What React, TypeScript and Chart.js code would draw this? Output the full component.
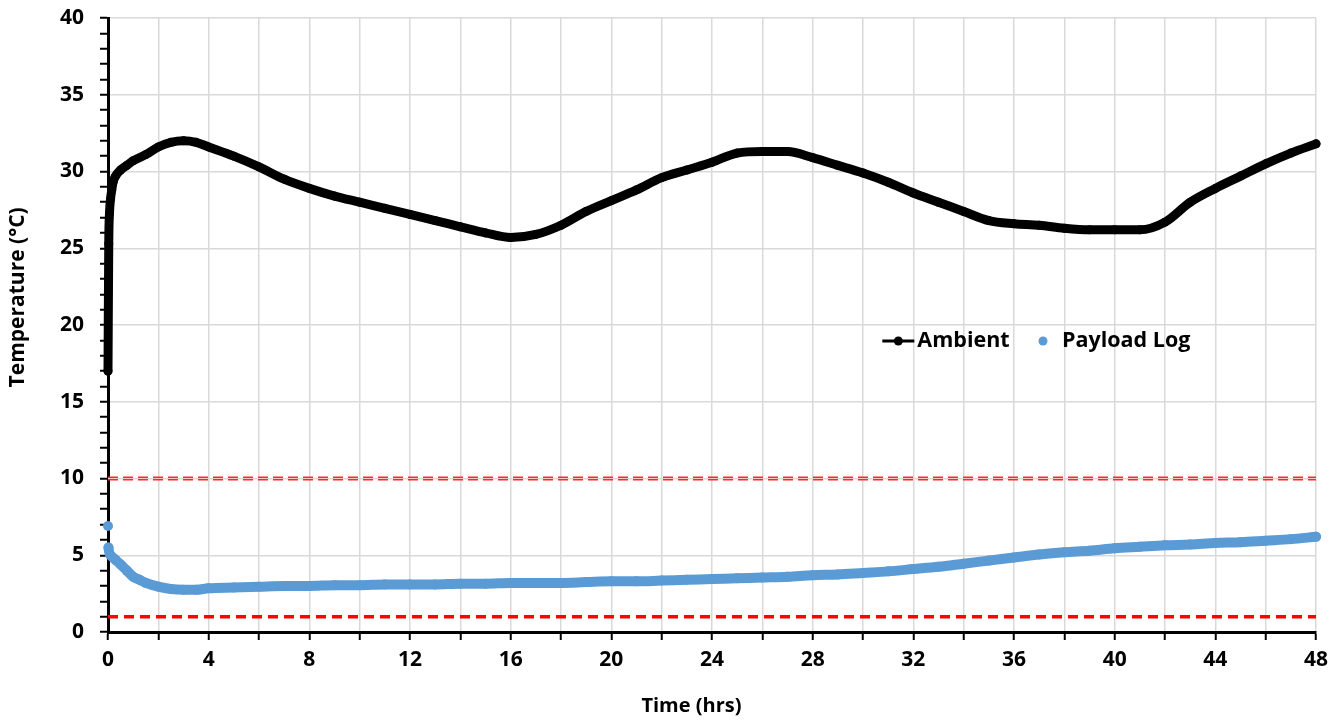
import { useEffect, useRef } from "react";
import { Chart, registerables } from "chart.js";

Chart.register(...registerables);

// ---- data ----
const ambientHours = [0, 0.03, 0.06, 0.1, 0.15, 0.2, 0.3, 0.5, 0.75, 1, 1.5, 2, 2.5, 3, 3.5, 4, 5, 6, 7, 8, 9, 10, 11, 12, 13, 14, 15, 16, 17, 18, 19, 20, 21, 22, 23, 24, 25, 26, 27, 28, 29, 30, 31, 32, 33, 34, 35, 36, 37, 38, 39, 40, 41, 42, 43, 44, 45, 46, 47, 48];
const ambientTemps = [17.0, 25.3, 27.3, 28.2, 28.8, 29.3, 29.7, 30.1, 30.4, 30.7, 31.1, 31.6, 31.9, 32.0, 31.9, 31.6, 31.0, 30.3, 29.5, 28.9, 28.4, 28.0, 27.6, 27.2, 26.8, 26.4, 26.0, 25.7, 25.9, 26.5, 27.4, 28.1, 28.8, 29.6, 30.1, 30.6, 31.2, 31.3, 31.3, 30.9, 30.4, 29.9, 29.3, 28.6, 28.0, 27.4, 26.8, 26.6, 26.5, 26.3, 26.2, 26.2, 26.2, 26.7, 28.0, 28.9, 29.7, 30.5, 31.2, 31.8];

const payloadHours = [0, 0.02, 0.1, 0.3, 0.5, 0.75, 1, 1.25, 1.5, 2, 2.5, 3, 3.5, 4, 5, 6, 7, 8, 9, 10, 11, 12, 13, 14, 15, 16, 17, 18, 19, 20, 21, 22, 23, 24, 25, 26, 27, 28, 29, 30, 31, 32, 33, 34, 35, 36, 37, 38, 39, 40, 41, 42, 43, 44, 45, 46, 47, 48];
const payloadTemps = [6.9, 5.5, 5.0, 4.7, 4.4, 4.0, 3.6, 3.4, 3.2, 2.95, 2.8, 2.75, 2.75, 2.85, 2.9, 2.95, 3.0, 3.0, 3.05, 3.05, 3.1, 3.1, 3.1, 3.15, 3.15, 3.2, 3.2, 3.2, 3.25, 3.3, 3.3, 3.35, 3.4, 3.45, 3.5, 3.55, 3.6, 3.7, 3.75, 3.85, 3.95, 4.1, 4.25, 4.45, 4.65, 4.85, 5.05, 5.2, 5.3, 5.45, 5.55, 5.65, 5.7, 5.8, 5.85, 5.95, 6.05, 6.2];

const upperLimit = 10;
const lowerLimit = 1;
const timeMin = 0;
const timeMax = 48;
const tempMin = 0;
const tempMax = 40;
const seriesNames = ["Ambient", "Payload Log"];
const xTitle = "Time (hrs)";
const yTitle = "Temperature (°C)";

const FONT = "'Open Sans', 'Noto Sans', sans-serif";
const BLUE = "#5b9bd5";

const toPoints = (xs: number[], ys: number[]) => xs.map((x, i) => ({ x, y: ys[i] }));

const annotationPlugin = {
  id: "inlineLegendAndTitles",
  afterDraw(chart: any) {
    const { ctx, chartArea } = chart;
    const w = chartArea.right - chartArea.left;
    const h = chartArea.bottom - chartArea.top;
    ctx.save();
    // axis titles
    ctx.fillStyle = "#000";
    ctx.font = `bold 20px ${FONT}`;
    ctx.textAlign = "center";
    ctx.textBaseline = "middle";
    ctx.fillText(xTitle, chartArea.left + w * 0.483, chartArea.bottom + 74);
    ctx.save();
    ctx.translate(18, chartArea.top + h * 0.455);
    ctx.rotate(-Math.PI / 2);
    ctx.font = `bold 21px ${FONT}`;
    ctx.fillText(yTitle, 0, 0);
    ctx.restore();

    // legend
    const cy = chartArea.top + h * 0.526;
    const x0 = chartArea.left + w * 0.641;
    ctx.strokeStyle = "#000";
    ctx.lineWidth = 3;
    ctx.beginPath();
    ctx.moveTo(x0, cy);
    ctx.lineTo(x0 + 32, cy);
    ctx.stroke();
    ctx.fillStyle = "#000";
    ctx.beginPath();
    ctx.arc(x0 + 16, cy, 4.5, 0, Math.PI * 2);
    ctx.fill();
    ctx.font = `bold 21.5px ${FONT}`;
    ctx.textBaseline = "middle";
    ctx.textAlign = "left";
    ctx.fillText(seriesNames[0], x0 + 35, cy);
    const x1 = chartArea.left + w * 0.774;
    ctx.fillStyle = BLUE;
    ctx.beginPath();
    ctx.arc(x1, cy, 4.5, 0, Math.PI * 2);
    ctx.fill();
    ctx.fillStyle = "#000";
    ctx.fillText(seriesNames[1], x1 + 19, cy);
    ctx.restore();
  },
};

export default function App() {
  const canvasRef = useRef<HTMLCanvasElement | null>(null);

  useEffect(() => {
    document.body.style.margin = "0";
    const canvas = canvasRef.current;
    if (!canvas) return;
    const chart = new Chart(canvas, {
      type: "line",
      data: {
        datasets: [
          {
            label: "upper-outer",
            data: [{ x: timeMin, y: upperLimit }, { x: timeMax, y: upperLimit }],
            borderColor: "#ff2a2a",
            borderWidth: 4,
            borderDash: [10, 5],
            pointRadius: 0,
            order: 5,
          },
          {
            label: "upper-inner",
            data: [{ x: timeMin, y: upperLimit }, { x: timeMax, y: upperLimit }],
            borderColor: "#ffc4c4",
            borderWidth: 1.2,
            borderDash: [10, 5],
            pointRadius: 0,
            order: 4,
          },
          {
            label: "lower",
            data: [{ x: timeMin, y: lowerLimit }, { x: timeMax, y: lowerLimit }],
            borderColor: "#ff0000",
            borderWidth: 3.5,
            borderDash: [10, 6],
            pointRadius: 0,
            order: 3,
          },
          {
            label: seriesNames[1],
            data: toPoints(payloadHours, payloadTemps),
            borderColor: BLUE,
            backgroundColor: BLUE,
            borderWidth: 10,
            pointRadius: 5,
            pointBorderWidth: 0,
            pointBackgroundColor: BLUE,
            cubicInterpolationMode: "monotone",
            borderCapStyle: "round",
            borderJoinStyle: "round",
            clip: 10,
            segment: {
              borderColor: (ctx: any) => (ctx.p0DataIndex === 0 ? "rgba(0,0,0,0)" : undefined),
            },
            order: 2,
          },
          {
            label: seriesNames[0],
            data: toPoints(ambientHours, ambientTemps),
            borderColor: "#000",
            backgroundColor: "#000",
            borderWidth: 9,
            pointRadius: 4.5,
            pointBorderWidth: 0,
            pointBackgroundColor: "#000",
            cubicInterpolationMode: "monotone",
            borderCapStyle: "round",
            borderJoinStyle: "round",
            clip: 10,
            order: 1,
          },
        ],
      },
      options: {
        animation: false,
        responsive: true,
        maintainAspectRatio: false,
        parsing: false,
        normalized: true,
        layout: { padding: { top: 18, right: 22, left: 0, bottom: 0 } },
        plugins: {
          legend: { display: false },
          tooltip: { enabled: false },
        },
        scales: {
          x: {
            type: "linear",
            min: timeMin,
            max: timeMax,
            afterFit: (scale: any) => {
              scale.height = 89;
              scale.paddingLeft = 0;
              scale.paddingRight = 0;
            },
            ticks: {
              stepSize: 2,
              autoSkip: false,
              maxRotation: 0,
              padding: 7,
              color: "#000",
              font: { family: FONT, size: 21, weight: "bold" },
              callback: (v: any) => (Number(v) % 4 === 0 ? String(v) : ""),
            },
            grid: {
              color: "#d9d9d9",
              lineWidth: 1.5,
              tickColor: "#000",
              tickLength: 8,
              tickWidth: 2,
            },
            border: { color: "#000", width: 3 },
          },
          y: {
            type: "linear",
            min: tempMin,
            max: tempMax,
            afterFit: (scale: any) => {
              scale.width = 108;
              scale.paddingTop = 0;
              scale.paddingBottom = 0;
            },
            ticks: {
              stepSize: 1,
              autoSkip: false,
              padding: 16,
              color: "#000",
              font: { family: FONT, size: 21, weight: "bold" },
              callback: (v: any) => (Number(v) % 5 === 0 ? String(v) : ""),
            },
            grid: {
              color: (ctx: any) => (ctx.tick && ctx.tick.value % 5 === 0 ? "#d9d9d9" : "rgba(0,0,0,0)"),
              lineWidth: 1.5,
              tickColor: "#000",
              tickLength: 8,
              tickWidth: 2,
            },
            border: { color: "#000", width: 3 },
          },
        },
      } as any,
      plugins: [annotationPlugin],
    });
    return () => chart.destroy();
  }, []);

  return (
    <div style={{ position: "relative", width: "1338px", height: "721px", background: "#fff" }}>
      <canvas ref={canvasRef} />
    </div>
  );
}
